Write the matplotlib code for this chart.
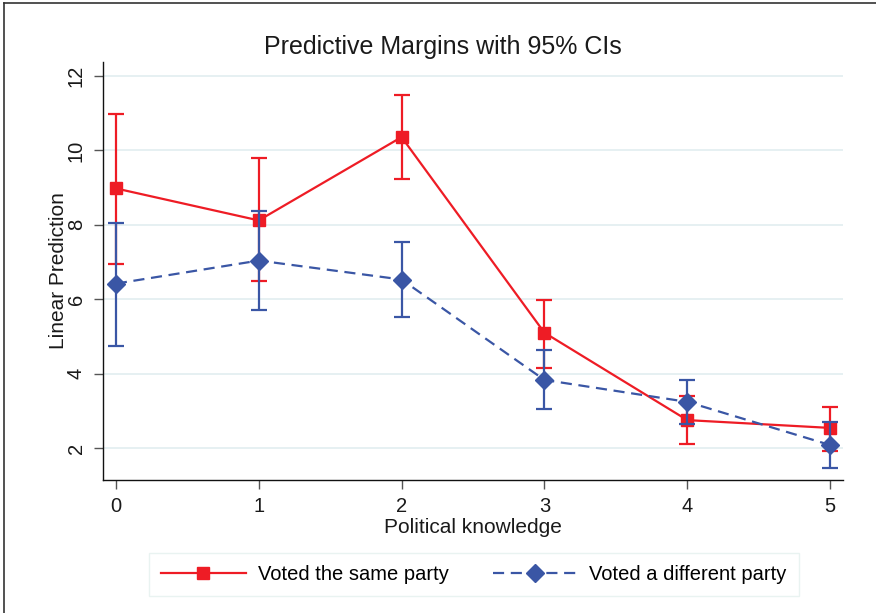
import matplotlib
matplotlib.use("Agg")
import matplotlib.pyplot as plt
from matplotlib.lines import Line2D

plt.rcParams['font.family'] = ['Liberation Sans', 'DejaVu Sans']

knowledge = [0, 1, 2, 3, 4, 5]
same_mean = [8.98, 8.12, 10.36, 5.10, 2.75, 2.54]
same_lo = [6.96, 6.50, 9.22, 4.16, 2.11, 1.92]
same_hi = [10.98, 9.79, 11.49, 5.99, 3.40, 3.11]
diff_mean = [6.42, 7.04, 6.53, 3.83, 3.24, 2.08]
diff_lo = [4.75, 5.72, 5.53, 3.05, 2.65, 1.46]
diff_hi = [8.04, 8.36, 7.55, 4.64, 3.83, 2.70]
yticks = [2, 4, 6, 8, 10, 12]
labels = ['Voted the same party', 'Voted a different party']

RED = '#EE1C25'
BLUE = '#3A56A5'
TXT = '#1a1a1a'

fig = plt.figure(figsize=(8.76, 6.13), dpi=100)
ax = fig.add_axes([0.1176, 0.2170, 0.8447, 0.6819])

def err(mean, lo, hi):
    return [[m - l for m, l in zip(mean, lo)], [h - m for m, h in zip(mean, hi)]]

ax.errorbar(knowledge, same_mean, yerr=err(same_mean, same_lo, same_hi), color=RED,
            lw=1.6, marker='s', markersize=9, capsize=5.5, elinewidth=1.6, capthick=1.6,
            zorder=3)
ax.errorbar(knowledge, diff_mean, yerr=err(diff_mean, diff_lo, diff_hi), color=BLUE,
            lw=1.6, ls=(0, (5, 3)), marker='D', markersize=9, capsize=5.5, elinewidth=1.6,
            capthick=1.6, zorder=4)

ax.set_xlim(-0.09, 5.09)
ax.set_ylim(1.14, 12.38)
ax.set_xticks(knowledge)
ax.set_yticks(yticks)
ax.set_yticklabels([str(v) for v in yticks], rotation=90, va='center')
ax.grid(axis='y', color='#E6F0F2', lw=1.4)
ax.set_axisbelow(True)
for s in ['top', 'right']:
    ax.spines[s].set_visible(False)
for s in ['left', 'bottom']:
    ax.spines[s].set_color('#111111')
    ax.spines[s].set_linewidth(1.0)
ax.tick_params(axis='both', length=6.5, width=1, color='#555555', labelsize=14.5,
               labelcolor=TXT, pad=6)

ax.set_xlabel('Political knowledge', fontsize=15, color=TXT, labelpad=1)
ax.set_ylabel('Linear Prediction', fontsize=15, color=TXT, labelpad=-1)
fig.text(0.505, 0.923, 'Predictive Margins with 95% CIs', fontsize=18, color=TXT,
         ha='center', va='center')

handles = [
    Line2D([], [], color=RED, lw=1.6, marker='s', markersize=9),
    Line2D([], [], color=BLUE, lw=1.6, ls=(0, (5, 3)), marker='D', markersize=9),
]
leg = fig.legend(handles, labels, loc='center', bbox_to_anchor=(0.541, 0.0625), ncol=2,
                 fontsize=14.5, frameon=True, fancybox=False, handlelength=4.2,
                 columnspacing=2.2, borderpad=0.6, handletextpad=0.6)
leg.get_frame().set_edgecolor('#E4F0EE')
leg.get_frame().set_linewidth(1.0)

fig.add_artist(Line2D([0.005, 0.005], [0, 0.995], transform=fig.transFigure, color='#333333', lw=1.2))
fig.add_artist(Line2D([0.005, 1.0], [0.995, 0.995], transform=fig.transFigure, color='#333333', lw=1.2))

fig.savefig('out.png', dpi=100)
